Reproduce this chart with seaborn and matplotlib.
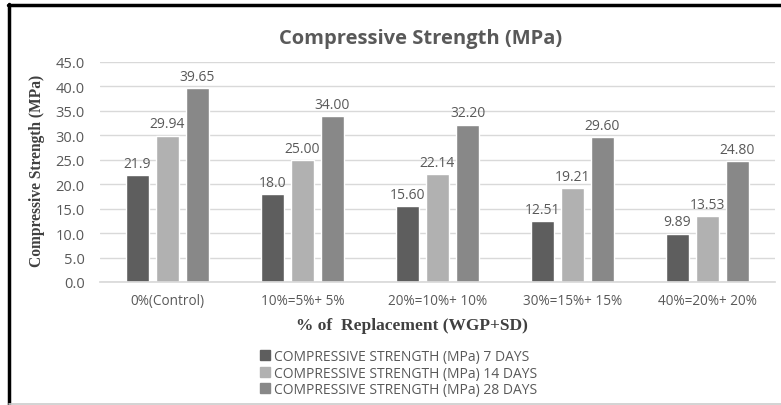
import matplotlib
matplotlib.use("Agg")
import matplotlib.pyplot as plt
from matplotlib.lines import Line2D
import seaborn as sns
import pandas as pd

categories = ["0%(Control)", "10%=5%+ 5%", "20%=10%+ 10%", "30%=15%+ 15%", "40%=20%+ 20%"]
series_names = ["COMPRESSIVE STRENGTH (MPa) 7 DAYS",
                "COMPRESSIVE STRENGTH (MPa) 14 DAYS",
                "COMPRESSIVE STRENGTH (MPa) 28 DAYS"]
days7 = [21.9, 18.0, 15.60, 12.51, 9.89]
days14 = [29.94, 25.00, 22.14, 19.21, 13.53]
days28 = [39.65, 34.00, 32.20, 29.60, 24.80]
labels7 = ["21.9", "18.0", "15.60", "12.51", "9.89"]
labels14 = ["29.94", "25.00", "22.14", "19.21", "13.53"]
labels28 = ["39.65", "34.00", "32.20", "29.60", "24.80"]
yticks = [0, 5, 10, 15, 20, 25, 30, 35, 40, 45]

rows = []
for name, vals in zip(series_names, [days7, days14, days28]):
    for c, v in zip(categories, vals):
        rows.append({"cat": c, "series": name, "value": v})
df = pd.DataFrame(rows)

sns.set_theme(style="white")
plt.rcParams["font.family"] = ["Open Sans", "DejaVu Sans"]

colors = ["#5e5e5e", "#b1b1b1", "#888888"]
txt_gray = "#595959"

fig = plt.figure(figsize=(7.81, 4.06), dpi=100)
ax = fig.add_axes([100 / 781, 1 - 283 / 406, 675 / 781, (283 - 63) / 406])

sns.barplot(data=df, x="cat", y="value", hue="series", order=categories,
            hue_order=series_names, palette=colors, width=0.667, gap=0.23,
            ax=ax, legend=False, saturation=1, errorbar=None)

for cont, labs in zip(ax.containers, [labels7, labels14, labels28]):
    ax.bar_label(cont, labels=labs, padding=3, fontsize=10, color=txt_gray)

ax.set_ylim(0, 45)
ax.set_yticks(yticks)
ax.set_yticklabels([f"{t:.1f}" for t in yticks])
ax.yaxis.grid(True, color="#d9d9d9", linewidth=1)
ax.set_axisbelow(True)
for s in ["top", "right", "left"]:
    ax.spines[s].set_visible(False)
ax.spines["bottom"].set_color("#d9d9d9")
ax.tick_params(axis="y", length=0, labelsize=10.5, colors=txt_gray, pad=11)
ax.tick_params(axis="x", length=0, labelsize=9.8, colors=txt_gray, pad=8)
ax.set_xlim(-0.5, 4.5)
ax.set_xlabel("")
ax.set_ylabel("")

fig.text(412 / 781, 1 - 326 / 406, "% of  Replacement (WGP+SD)",
         family=["Liberation Serif"], fontweight="bold", fontsize=12.5,
         color="#404040", ha="center", va="center")
fig.text(37 / 781, 1 - 171 / 406, "Compressive Strength (MPa)",
         family=["Liberation Serif"], fontweight="bold", fontsize=11.2,
         color="#404040", ha="center", va="center", rotation=90)
fig.text(421 / 781, 1 - 39 / 406, "Compressive Strength (MPa)", ha="center",
         va="center", fontsize=14.5, fontweight="bold", color=txt_gray)

handles = [Line2D([], [], marker="s", linestyle="none", markersize=6.5,
                  markerfacecolor=c, markeredgecolor=c) for c in colors]
fig.legend(handles, series_names, loc="upper left",
           bbox_to_anchor=(259 / 781, 1 - 350 / 406), frameon=False,
           fontsize=10, labelcolor=txt_gray, handlelength=0.8,
           handletextpad=0.3, labelspacing=0.12, borderpad=0, borderaxespad=0)

# outer frame lines
fig.add_artist(Line2D([9 / 781, 9 / 781], [0, 1 - 5 / 406], color="black",
                      linewidth=2.5, transform=fig.transFigure))
fig.add_artist(Line2D([8 / 781, 1], [1 - 6 / 406, 1 - 6 / 406], color="black",
                      linewidth=2.5, transform=fig.transFigure))
fig.add_artist(Line2D([9 / 781, 1], [1 - 404.5 / 406, 1 - 404.5 / 406],
                      color="#cccccc", linewidth=1.2, transform=fig.transFigure))

fig.savefig("out.png", dpi=100)
